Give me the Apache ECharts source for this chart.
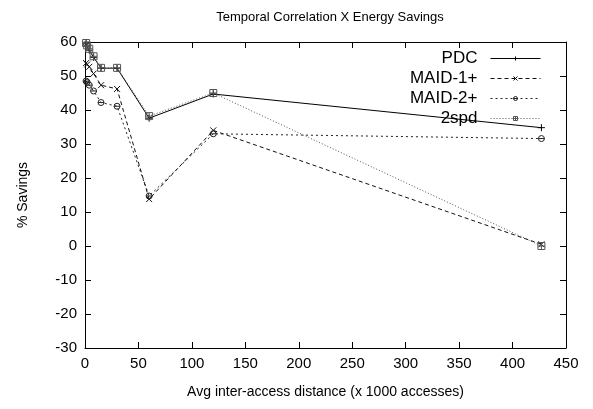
<!DOCTYPE html>
<html>
<head>
<meta charset="utf-8">
<script src="https://cdn.jsdelivr.net/npm/echarts@6/dist/echarts.min.js"></script>
<style>
  html, body { margin: 0; padding: 0; background: #fff; }
  #main { width: 593px; height: 409px; }
</style>
</head>
<body>
<div id="main"></div>
<script>
// x = avg inter-access distance (x 1000 accesses)
var xValues = [1, 2, 4, 8, 15, 30, 60, 120, 427];
var pdc    = [59.5, 58.8, 57.6, 55.5, 52.3, 52.3, 37.6, 44.7, 34.8];
var maid1  = [53.8, 53.4, 52.7, 50.7, 47.3, 46.2, 13.8, 34.0, 0.5];
var maid2  = [48.5, 48.2, 47.3, 45.6, 42.2, 41.1, 14.7, 33.0, 31.6];
var spd2   = [59.7, 59.0, 58.0, 55.8, 52.4, 52.4, 38.2, 45.0, 0.0];

var myChart = echarts.init(document.getElementById('main'));

function pairs(ys) {
  var out = [];
  for (var i = 0; i < xValues.length; i++) {
    out.push([xValues[i], ys[i]]);
  }
  return out;
}

var FONT = 'Liberation Sans';

// stroke-only markers like gnuplot
var plusSym = 'path://M0,5L10,5M5,0L5,10';
var crossSym = 'path://M0,0L10,10M10,0L0,10';
var circSym = 'path://M0,5A5,5,0,1,1,10,5A5,5,0,1,1,0,5ZM0,5L10,5';
var boxSym = 'path://M0,0L10,0L10,10L0,10ZM5,0L5,10M0,5L10,5';

function makeSeries(name, ys, sym, size, lineType, color) {
  return {
    name: name,
    type: 'line',
    data: pairs(ys),
    symbol: sym,
    symbolSize: size,
    showAllSymbol: true,
    lineStyle: {color: color, width: 1, type: lineType},
    itemStyle: {color: 'rgba(0,0,0,0)', borderColor: color, borderWidth: 1},
    emphasis: {disabled: true},
    animation: false
  };
}

var tickLabel = {color: '#000', fontFamily: FONT, fontSize: 15, margin: 8};

var option = {
  backgroundColor: '#fff',
  animation: false,
  title: {
    text: 'Temporal Correlation X Energy Savings',
    left: 325,
    textAlign: 'center',
    top: 6,
    textStyle: {fontFamily: FONT, fontSize: 13, fontWeight: 'normal', color: '#000'}
  },
  legend: {
    orient: 'vertical',
    right: 47,
    top: 45,
    align: 'right',
    itemWidth: 50,
    itemHeight: 5,
    itemGap: 3,
    itemStyle: {borderWidth: 1},
    lineStyle: {width: 1},
    textStyle: {fontFamily: FONT, fontSize: 17, color: '#000', padding: [0, 8, 0, 0]},
    data: ['PDC', 'MAID-1+', 'MAID-2+', '2spd']
  },
  grid: {left: 85, right: 27, top: 42, bottom: 61, containLabel: false},
  xAxis: [{
    type: 'value',
    min: 0, max: 450, interval: 50,
    name: 'Avg inter-access distance (x 1000 accesses)',
    nameLocation: 'middle',
    nameGap: 37,
    nameTextStyle: {fontFamily: FONT, fontSize: 14, color: '#000'},
    axisLine: {onZero: false, lineStyle: {color: '#000', width: 1}},
    axisTick: {inside: true, length: 6, lineStyle: {color: '#000'}},
    axisLabel: tickLabel,
    splitLine: {show: false}
  }, {
    type: 'value', position: 'top',
    min: 0, max: 450, interval: 50,
    axisLine: {onZero: false, lineStyle: {color: '#000', width: 1}},
    axisTick: {inside: true, length: 6, lineStyle: {color: '#000'}},
    axisLabel: {show: false},
    splitLine: {show: false}
  }],
  yAxis: [{
    type: 'value',
    min: -30, max: 60, interval: 10,
    name: '% Savings',
    nameLocation: 'middle',
    nameGap: 55,
    nameTextStyle: {fontFamily: FONT, fontSize: 14, color: '#000'},
    axisLine: {onZero: false, lineStyle: {color: '#000', width: 1}},
    axisTick: {inside: true, length: 6, lineStyle: {color: '#000'}},
    axisLabel: tickLabel,
    splitLine: {show: false}
  }, {
    type: 'value', position: 'right',
    min: -30, max: 60, interval: 10,
    axisLine: {onZero: false, lineStyle: {color: '#000', width: 1}},
    axisTick: {inside: true, length: 6, lineStyle: {color: '#000'}},
    axisLabel: {show: false},
    splitLine: {show: false}
  }],
  series: [
    makeSeries('PDC', pdc, plusSym, 7, 'solid', '#000'),
    makeSeries('MAID-1+', maid1, crossSym, 6, [4, 3], '#111'),
    makeSeries('MAID-2+', maid2, circSym, 6, [2, 3], '#222'),
    makeSeries('2spd', spd2, boxSym, 7, [1, 2], '#555')
  ]
};

myChart.setOption(option);
</script>
</body>
</html>
